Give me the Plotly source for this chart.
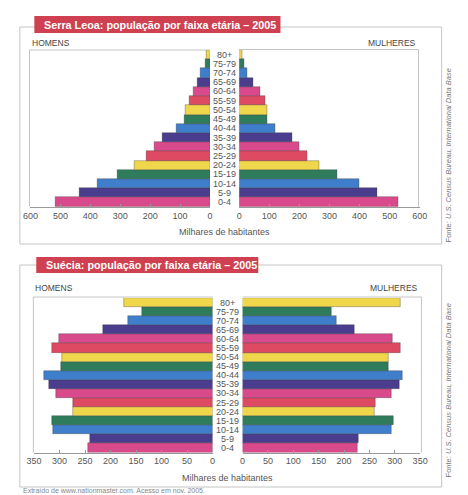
import plotly.graph_objects as go

# the page body adds an 8 px margin, so the figure is drawn 8 px smaller and
# all layout positions (given in window pixels) are shifted by that offset
OFF = 8
W, H = 468 - OFF, 495 - OFF

age_groups = ["0-4", "5-9", "10-14", "15-19", "20-24", "25-29", "30-34", "35-39",
              "40-44", "45-49", "50-54", "55-59", "60-64", "65-69", "70-74", "75-79", "80+"]

# Serra Leoa 2005 (milhares de habitantes)
sl_homens = [517, 435, 377, 309, 253, 214, 186, 160, 113, 85, 81, 67, 56, 42, 31, 16, 11]
sl_mulheres = [529, 458, 400, 327, 266, 227, 199, 175, 119, 93, 94, 85, 70, 48, 27, 16, 9]

# Suécia 2005 (milhares de habitantes)
se_homens = [245, 241, 312, 314, 274, 274, 307, 321, 330, 298, 296, 314, 301, 214, 166, 139, 173]
se_mulheres = [227, 229, 294, 297, 260, 262, 294, 310, 315, 287, 287, 311, 296, 221, 186, 175, 311]

sl_ticks = [0, 100, 200, 300, 400, 500, 600]
se_ticks = [0, 50, 100, 150, 200, 250, 300, 350]

palette = ["#d84a8c", "#4b3d8e", "#3f7ecb", "#2f7c5c", "#f0d64a", "#de4a62"]
colors = [palette[i % 6] for i in range(len(age_groups))]

FONT = "Liberation Sans, Arial, sans-serif"
GRAY = "#555555"
FRAME = "#c4c4c4"


def px(x):
    return (x - OFF) / W


def py(y):
    return 1 - (y - OFF) / H


fig = go.Figure()


def bars(vals, xa, ya):
    fig.add_trace(go.Bar(
        y=age_groups, x=vals, orientation="h", xaxis=xa, yaxis=ya,
        marker=dict(color=colors, line=dict(color="rgba(50,50,50,0.55)", width=0.6)),
        showlegend=False, hoverinfo="x+y"))


bars(sl_homens, "x", "y")
bars(sl_mulheres, "x2", "y")
bars(se_homens, "x3", "y2")
bars(se_mulheres, "x4", "y2")

xcommon = dict(showgrid=False, zeroline=False, showline=True, linecolor="#9a9a9a", linewidth=1,
               ticks="inside", ticklen=3, tickcolor="#9a9a9a",
               tickfont=dict(family=FONT, size=9, color=GRAY), fixedrange=True)
ycommon = dict(showgrid=False, zeroline=False, showline=False, showticklabels=False,
               type="category", categoryorder="array", categoryarray=age_groups,
               range=[-0.5, len(age_groups) - 0.5], fixedrange=True)

top_y = [py(206.7), py(50)]
bot_y = [py(452.5), py(298)]

fig.update_layout(
    width=W, height=H, margin=dict(l=0, r=0, t=0, b=0),
    paper_bgcolor="white", plot_bgcolor="rgba(0,0,0,0)",
    bargap=0,
    xaxis=dict(xcommon, domain=[px(23), px(209)], range=[600, 0], tickvals=sl_ticks, anchor="y"),
    xaxis2=dict(xcommon, domain=[px(239.3), px(426.3)], range=[0, 600], tickvals=sl_ticks, anchor="y"),
    xaxis3=dict(xcommon, domain=[px(26.7), px(211.7)], range=[350, 0], tickvals=se_ticks, anchor="y2"),
    xaxis4=dict(xcommon, domain=[px(242.7), px(426.7)], range=[0, 350], tickvals=se_ticks, anchor="y2"),
    yaxis=dict(ycommon, domain=top_y, anchor="x"),
    yaxis2=dict(ycommon, domain=bot_y, anchor="x3"),
)

shapes = []


def line(x0, y0, x1, y1, color=FRAME, w=1):
    shapes.append(dict(type="line", xref="paper", yref="paper",
                       x0=px(x0), y0=py(y0), x1=px(x1), y1=py(y1),
                       line=dict(color=color, width=w), layer="below"))


# outer frames
for (x0, y0, x1, y1) in [(12, 27, 449, 244), (12, 265, 449, 487)]:
    shapes.append(dict(type="rect", xref="paper", yref="paper",
                       x0=px(x0), y0=py(y0), x1=px(x1), y1=py(y1),
                       line=dict(color=FRAME, width=1), fillcolor="rgba(0,0,0,0)", layer="below"))

# inner frames (top chart)
line(22, 50, 209, 50)
line(22, 50, 22, 206.7)
line(239, 49.5, 425, 49.5)
line(425, 49.5, 425, 206.7)
# inner frames (bottom chart)
line(26, 297, 212, 297)
line(26, 297, 26, 452.5)
line(243, 297, 428, 297)
line(428, 297, 428, 452.5)

# title boxes
TITLE_RED = "#cf4150"
for (x0, y0, x1, y1) in [(27, 16, 282, 33), (29, 257, 259, 273)]:
    shapes.append(dict(type="rect", xref="paper", yref="paper",
                       x0=px(x0), y0=py(y0), x1=px(x1), y1=py(y1),
                       line=dict(width=0), fillcolor=TITLE_RED, layer="above"))

fig.update_layout(shapes=shapes)

ann = []


def text(t, x, y, size=9, color=GRAY, xanchor="center", yanchor="middle", angle=0):
    ann.append(dict(text=t, xref="paper", yref="paper", x=px(x), y=py(y), showarrow=False,
                    xanchor=xanchor, yanchor=yanchor, textangle=angle,
                    font=dict(family=FONT, size=size, color=color)))


text("<b>Serra Leoa: população por faixa etária – 2005</b>", 35, 24.5, size=10.8, color="white",
     xanchor="left")
text("<b>Suécia: população por faixa etária – 2005</b>", 37, 265, size=10.8, color="white",
     xanchor="left")

text("HOMENS", 22, 43, size=8.5, color="#444", xanchor="left")
text("MULHERES", 425, 43, size=8.5, color="#444", xanchor="right")
text("HOMENS", 26, 288, size=8.5, color="#444", xanchor="left")
text("MULHERES", 427, 288, size=8.5, color="#444", xanchor="right")

text("Milhares de habitantes", 224, 232, size=9)
text("Milhares de habitantes", 227, 478, size=9)

src = "Fonte: <i>U.S. Census Bureau, International Data Base</i>"
text(src, 456, 155, size=7.5, color="#777", angle=-90)
text(src, 456, 390, size=7.5, color="#777", angle=-90)

text("Extraído de www.nationmaster.com. Acesso em nov. 2005.", 13, 490, size=7, color="#888",
     xanchor="left")

# age labels in the centre
for g in age_groups:
    ann.append(dict(text=g, xref="paper", yref="y", x=px(224.3), y=g, showarrow=False,
                    xanchor="center", yanchor="middle",
                    font=dict(family=FONT, size=9, color=GRAY)))
    ann.append(dict(text=g, xref="paper", yref="y2", x=px(227.2), y=g, showarrow=False,
                    xanchor="center", yanchor="middle",
                    font=dict(family=FONT, size=9, color=GRAY)))

fig.update_layout(annotations=ann)

fig.write_html("out.html")
